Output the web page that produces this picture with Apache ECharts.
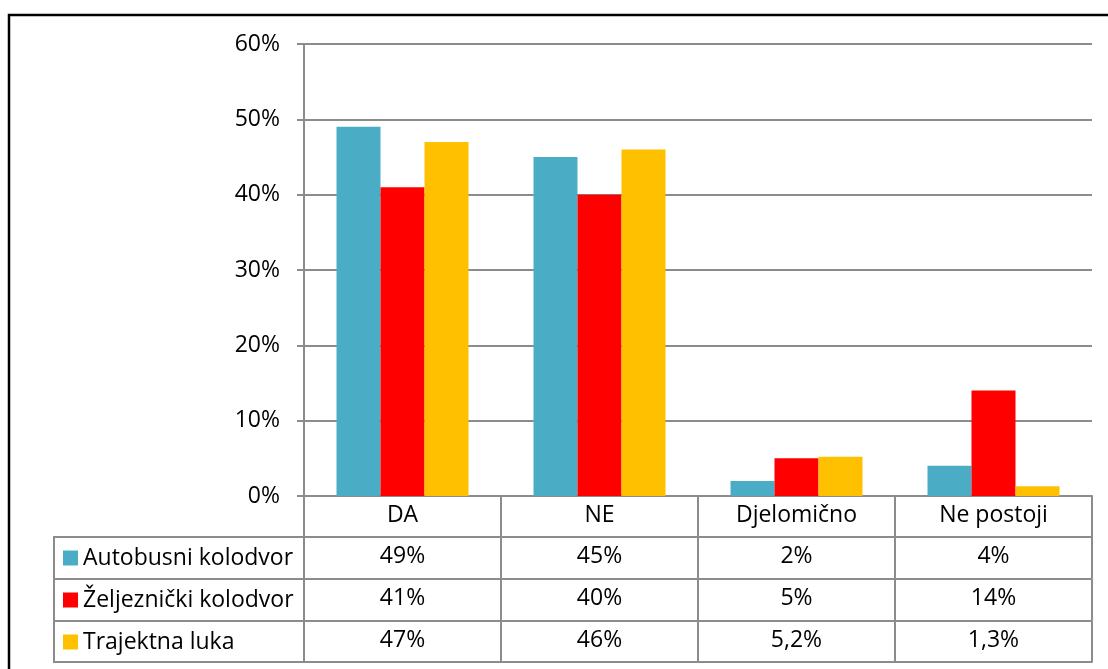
<!DOCTYPE html>
<html>
<head>
<meta charset="utf-8">
<script src="https://cdn.jsdelivr.net/npm/echarts@6/dist/echarts.min.js"></script>
<style>
html, body { margin: 0; padding: 0; background: #fff; }
#chart { width: 1108px; height: 669px; }
</style>
</head>
<body>
<div id="chart"></div>
<script>
// kategorije i vrijednosti (u postocima)
var categories = ['DA', 'NE', 'Djelomično', 'Ne postoji'];
var seriesNames = ['Autobusni kolodvor', 'Željeznički kolodvor', 'Trajektna luka'];
var autobusni = [49, 45, 2, 4];
var zeljeznicki = [41, 40, 5, 14];
var trajektna = [47, 46, 5.2, 1.3];
var yTicks = [0, 10, 20, 30, 40, 50, 60];

var colors = ['#4BACC6', '#FF0000', '#FFC000'];
var gridColor = '#8c8c8c';
var font = '"Open Sans", sans-serif';
var fontSize = 23;

function pct(v) {
  return String(v).replace('.', ',') + '%';
}

// redovi tablice ispod grafa: svaki red je posebna x os s pomakom
var rowOffsets = [0, 41, 83, 125, 166];
var rowData = [categories, autobusni.map(pct), zeljeznicki.map(pct), trajektna.map(pct), categories];

var xAxes = rowData.map(function (d, i) {
  var last = i === rowData.length - 1;
  return {
    type: 'category',
    data: d,
    position: 'bottom',
    offset: rowOffsets[i],
    axisLine: { show: true, lineStyle: { color: gridColor, width: 2 } },
    axisTick: { show: !last, length: 41, interval: 0, lineStyle: { color: gridColor, width: 2 } },
    axisLabel: {
      show: !last, interval: 0, margin: 8,
      color: '#000', fontFamily: font, fontSize: fontSize
    },
    splitLine: { show: false }
  };
});

var chart = echarts.init(document.getElementById('chart'));
chart.setOption({
  animation: false,
  textStyle: { fontFamily: font },
  grid: { left: 304, right: 16, top: 44, bottom: 173, containLabel: false },
  legend: {
    orient: 'vertical',
    left: 63,
    top: 546,
    padding: 0,
    icon: 'rect',
    itemWidth: 15,
    itemHeight: 15,
    itemGap: 18,
    selectedMode: false,
    data: seriesNames,
    textStyle: { color: '#000', fontFamily: font, fontSize: fontSize, lineHeight: 24 }
  },
  xAxis: xAxes,
  yAxis: {
    type: 'value',
    min: yTicks[0],
    max: yTicks[yTicks.length - 1],
    interval: 10,
    axisLine: { show: true, lineStyle: { color: gridColor, width: 2 } },
    axisTick: { show: true, length: 7, lineStyle: { color: gridColor, width: 2 } },
    axisLabel: { formatter: '{value}%', margin: 24, color: '#000', fontFamily: font, fontSize: fontSize },
    splitLine: { show: true, lineStyle: { color: gridColor, width: 2 } }
  },
  series: [
    { name: seriesNames[0], type: 'bar', data: autobusni, itemStyle: { color: colors[0] }, barGap: '0%', barCategoryGap: '33%' },
    { name: seriesNames[1], type: 'bar', data: zeljeznicki, itemStyle: { color: colors[1] }, barGap: '0%', barCategoryGap: '33%' },
    { name: seriesNames[2], type: 'bar', data: trajektna, itemStyle: { color: colors[2] }, barGap: '0%', barCategoryGap: '33%' }
  ],
  graphic: [
    // okvir oko cijelog grafa
    { type: 'rect', silent: true, shape: { x: 9, y: 15, width: 1200, height: 700 },
      style: { fill: 'none', stroke: '#000', lineWidth: 2.5 } },
    // lijevi stupac tablice (legenda)
    { type: 'rect', silent: true, shape: { x: 54, y: 537, width: 250, height: 125 },
      style: { fill: 'none', stroke: gridColor, lineWidth: 2 } },
    { type: 'line', silent: true, shape: { x1: 54, y1: 579, x2: 304, y2: 579 },
      style: { stroke: gridColor, lineWidth: 2 } },
    { type: 'line', silent: true, shape: { x1: 54, y1: 621, x2: 304, y2: 621 },
      style: { stroke: gridColor, lineWidth: 2 } }
  ]
});
</script>
</body>
</html>
